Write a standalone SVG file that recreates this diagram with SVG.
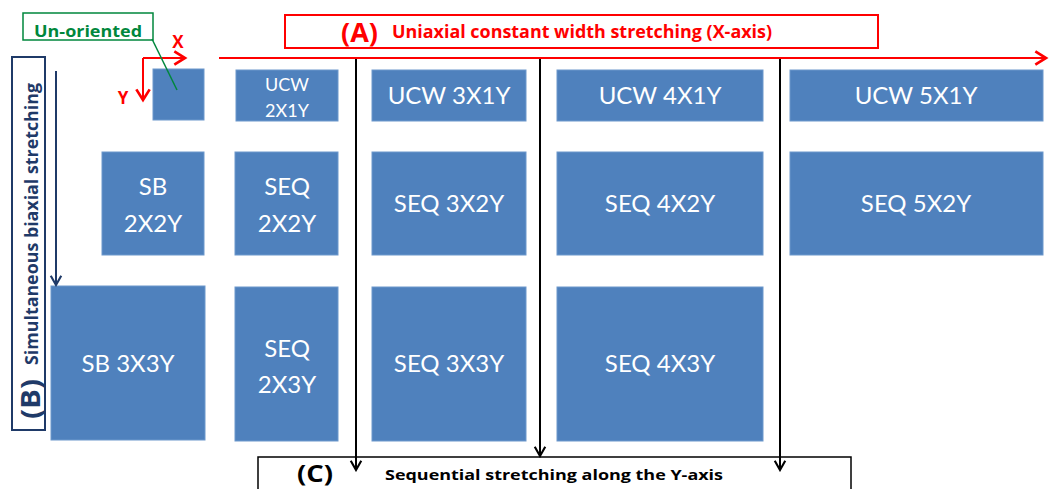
<svg xmlns="http://www.w3.org/2000/svg" width="1049" height="489" viewBox="0 0 1049 489">
  <style>
    .node rect { fill: #4f81bd; stroke: #6d98cc; stroke-width: 1; }
    .node text { fill: #ffffff; font-family: Lato, "Open Sans", sans-serif; font-size: 24px; text-anchor: middle; }
    .node text.small { font-size: 18px; }
    .red { fill: #ff0000; font-family: "Open Sans", "Liberation Sans", sans-serif; font-weight: bold; }
    .blk { fill: #000000; font-family: "Open Sans", "Liberation Sans", sans-serif; font-weight: bold; }
    .navy { fill: #1f3a68; font-family: "Open Sans", "Liberation Sans", sans-serif; font-weight: bold; }
  </style>
  <defs>
    <marker id="arrRed" markerUnits="userSpaceOnUse" markerWidth="16" markerHeight="16" refX="10" refY="6" orient="auto" viewBox="0 0 12 12">
      <path d="M2,1 L10,6 L2,11" fill="none" stroke="#ff0000" stroke-width="2"/>
    </marker>
    <marker id="arrBlk" markerUnits="userSpaceOnUse" markerWidth="14" markerHeight="14" refX="10" refY="6" orient="auto" viewBox="0 0 12 12">
      <path d="M2,1.5 L10,6 L2,10.5" fill="none" stroke="#000000" stroke-width="1.8"/>
    </marker>
    <marker id="arrNavy" markerUnits="userSpaceOnUse" markerWidth="14" markerHeight="14" refX="10" refY="6" orient="auto" viewBox="0 0 12 12">
      <path d="M2,1.5 L10,6 L2,10.5" fill="none" stroke="#1f3a68" stroke-width="1.8"/>
    </marker>
  </defs>

  <rect width="1049" height="489" fill="#ffffff"/>

  <!-- section labels -->
  <g id="label-A">
    <rect x="285" y="15" width="593" height="33" fill="#ffffff" stroke="#ff0000" stroke-width="2"/>
    <text class="red" x="341" y="42" font-size="26" textLength="37" lengthAdjust="spacingAndGlyphs">(A)</text>
    <text class="red" x="392" y="38" font-size="17" textLength="380" lengthAdjust="spacingAndGlyphs">Uniaxial constant width stretching (X-axis)</text>
  </g>
  <g id="label-B">
    <rect x="12" y="57" width="33" height="373" fill="#ffffff" stroke="#1f3a68" stroke-width="2"/>
    <text class="navy" transform="translate(38,365) rotate(-90)" font-size="17" textLength="282" lengthAdjust="spacingAndGlyphs">Simultaneous biaxial stretching</text>
    <text class="navy" transform="translate(40,419) rotate(-90)" font-size="27" textLength="40" lengthAdjust="spacingAndGlyphs">(B)</text>
  </g>
  <g id="label-C">
    <rect x="258" y="457" width="593" height="45" fill="#ffffff" stroke="#000000" stroke-width="1.5"/>
    <text class="blk" x="297" y="482" font-size="23" textLength="36" lengthAdjust="spacingAndGlyphs">(C)</text>
    <text class="blk" x="385" y="480" font-size="15" textLength="338" lengthAdjust="spacingAndGlyphs">Sequential stretching along the Y-axis</text>
  </g>
  <g id="label-unoriented">
    <rect x="23" y="13" width="130" height="27" fill="#ffffff" stroke="#00873c" stroke-width="1.5"/>
    <text x="34" y="37" font-family="'Open Sans', 'Liberation Sans', sans-serif" font-weight="bold" font-size="16" fill="#00873c" textLength="108" lengthAdjust="spacingAndGlyphs">Un-oriented</text>
  </g>
  <g id="axes">
    <text class="red" x="178" y="48" font-size="17" text-anchor="middle">X</text>
    <text class="red" x="123" y="104" font-size="17" text-anchor="middle">Y</text>
  </g>

  <!-- sample nodes -->
  <g id="unoriented" class="node"><rect x="153" y="69" width="51" height="51"/></g>
  <g id="ucw-2x1y" class="node"><rect x="236" y="70" width="102" height="51"/>
    <text class="small" x="287" y="91">UCW</text><text class="small" x="287" y="117">2X1Y</text></g>
  <g id="ucw-3x1y" class="node"><rect x="372" y="70" width="154" height="51"/>
    <text x="449" y="104">UCW 3X1Y</text></g>
  <g id="ucw-4x1y" class="node"><rect x="557" y="70" width="206" height="51"/>
    <text x="660" y="104">UCW 4X1Y</text></g>
  <g id="ucw-5x1y" class="node"><rect x="790" y="70" width="253" height="51"/>
    <text x="916" y="104">UCW 5X1Y</text></g>

  <g id="sb-2x2y" class="node"><rect x="102" y="152" width="102" height="103"/>
    <text x="153" y="195">SB</text><text x="153" y="232">2X2Y</text></g>
  <g id="seq-2x2y" class="node"><rect x="235" y="152" width="103" height="103"/>
    <text x="287" y="195">SEQ</text><text x="287" y="232">2X2Y</text></g>
  <g id="seq-3x2y" class="node"><rect x="372" y="152" width="154" height="103"/>
    <text x="449" y="212">SEQ 3X2Y</text></g>
  <g id="seq-4x2y" class="node"><rect x="557" y="152" width="206" height="103"/>
    <text x="660" y="212">SEQ 4X2Y</text></g>
  <g id="seq-5x2y" class="node"><rect x="790" y="152" width="253" height="103"/>
    <text x="916" y="212">SEQ 5X2Y</text></g>

  <g id="sb-3x3y" class="node"><rect x="51" y="286" width="154" height="154"/>
    <text x="128" y="372">SB 3X3Y</text></g>
  <g id="seq-2x3y" class="node"><rect x="235" y="287" width="103" height="154"/>
    <text x="287" y="357">SEQ</text><text x="287" y="393">2X3Y</text></g>
  <g id="seq-3x3y" class="node"><rect x="372" y="287" width="154" height="154"/>
    <text x="449" y="372">SEQ 3X3Y</text></g>
  <g id="seq-4x3y" class="node"><rect x="557" y="287" width="206" height="154"/>
    <text x="660" y="372">SEQ 4X3Y</text></g>

  <!-- connectors -->
  <g id="connectors" fill="none">
    <line x1="219" y1="58" x2="1046" y2="58" stroke="#ff0000" stroke-width="2" marker-end="url(#arrRed)"/>
    <line x1="143" y1="58" x2="185" y2="58" stroke="#ff0000" stroke-width="2" marker-end="url(#arrRed)"/>
    <line x1="143" y1="58" x2="143" y2="100" stroke="#ff0000" stroke-width="2" marker-end="url(#arrRed)"/>
    <line x1="152" y1="39" x2="177" y2="90" stroke="#00873c" stroke-width="1.5"/>
    <line x1="56" y1="71" x2="56" y2="285" stroke="#1f3a68" stroke-width="2" marker-end="url(#arrNavy)"/>
    <line x1="356" y1="59" x2="356" y2="470" stroke="#000000" stroke-width="2" marker-end="url(#arrBlk)"/>
    <line x1="540" y1="59" x2="540" y2="456" stroke="#000000" stroke-width="2" marker-end="url(#arrBlk)"/>
    <line x1="780" y1="59" x2="780" y2="470" stroke="#000000" stroke-width="2" marker-end="url(#arrBlk)"/>
  </g>
</svg>
